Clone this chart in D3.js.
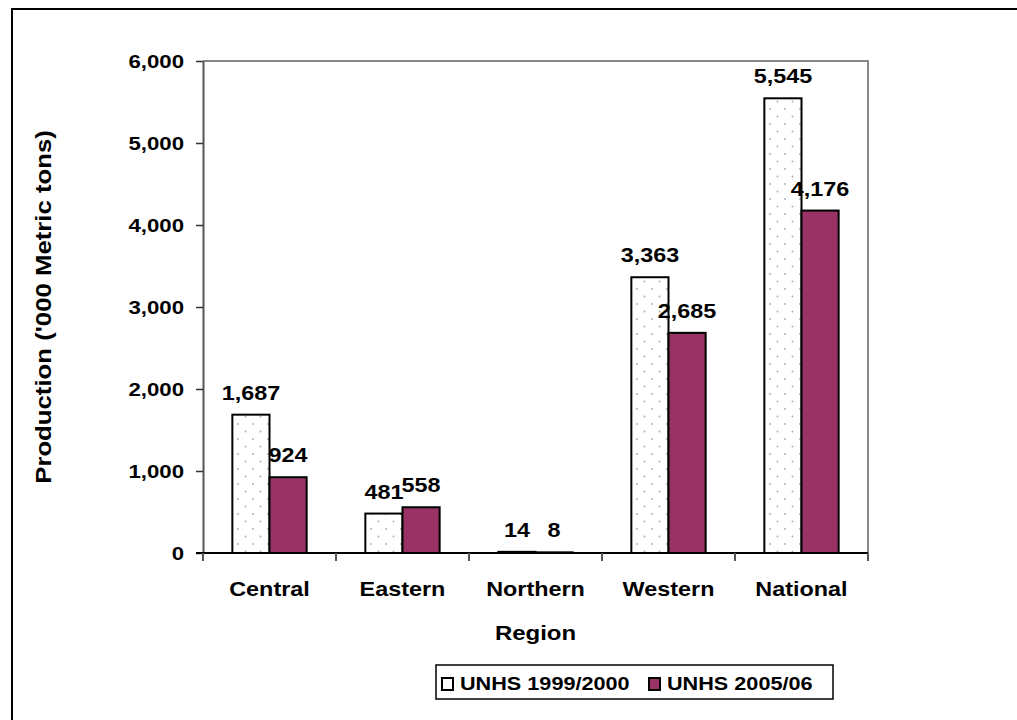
<!DOCTYPE html>
<html>
<head>
<meta charset="utf-8">
<script src="https://cdn.jsdelivr.net/npm/d3@7"></script>
<style>
  html, body { margin: 0; padding: 0; background: #fff; }
  svg { display: block; font-family: "Liberation Sans", Arial, sans-serif; font-weight: bold; }
</style>
</head>
<body>
<svg id="chart" width="1017" height="720"></svg>
<script>
// Production by region, two survey rounds ('000 metric tons)
const regions = ["Central", "Eastern", "Northern", "Western", "National"];
const series = ["UNHS 1999/2000", "UNHS 2005/06"];
const unhs1999 = [1687, 481, 14, 3363, 5545];
const unhs2005 = [924, 558, 8, 2685, 4176];
const yTicks = [0, 1000, 2000, 3000, 4000, 5000, 6000];

const svg = d3.select("#chart");
const margin = { left: 203, top: 61, right: 868, bottom: 553 };
const widen = 1.17;   // horizontal text stretch
const fmt = d3.format(",");

// Places a label at (x, y) with a slightly widened face
function label(sel, x, y, size, anchor, rot) {
  const r = rot ? ` rotate(${rot})` : "";
  return sel.append("text")
    .attr("transform", `translate(${x},${y})${r} scale(${widen},1)`)
    .attr("text-anchor", anchor)
    .attr("font-size", size)
    .attr("fill", "#000");
}

// Outer frame
svg.append("rect")
  .attr("x", 12).attr("y", 9)
  .attr("width", 1017).attr("height", 720)
  .attr("fill", "none").attr("stroke", "#000").attr("stroke-width", 2);

// Dotted fill for the first series
const defs = svg.append("defs");
const pat = defs.append("pattern")
  .attr("id", "dots").attr("patternUnits", "userSpaceOnUse")
  .attr("width", 15).attr("height", 15).attr("x", 3).attr("y", 2);
pat.append("rect").attr("width", 15).attr("height", 15).attr("fill", "#fff");
pat.append("circle").attr("cx", 2).attr("cy", 2).attr("r", 0.9).attr("fill", "#aaa");
pat.append("circle").attr("cx", 9.5).attr("cy", 9.5).attr("r", 0.9).attr("fill", "#aaa");

const x0 = d3.scaleBand().domain(regions).range([margin.left, margin.right]);
const x1 = d3.scaleBand().domain(series)
  .range([0, x0.bandwidth()]).paddingOuter(0.79).paddingInner(0);
const y = d3.scaleLinear().domain([0, 6000]).range([margin.bottom, margin.top]);

const fills = { "UNHS 1999/2000": "url(#dots)", "UNHS 2005/06": "#993366" };
const legendFills = { "UNHS 1999/2000": "#fff", "UNHS 2005/06": "#993366" };

// Plot area border (top and right)
svg.append("path")
  .attr("d", `M${margin.left},${margin.top}H${margin.right}V${margin.bottom}`)
  .attr("fill", "none").attr("stroke", "#888").attr("stroke-width", 2);

// Bars
const rows = regions.map((r, i) => ({ region: r, values: [
  { key: series[0], value: unhs1999[i] },
  { key: series[1], value: unhs2005[i] }
]}));

const groups = svg.append("g").selectAll("g").data(rows).join("g")
  .attr("transform", d => `translate(${x0(d.region)},0)`);

groups.selectAll("rect").data(d => d.values).join("rect")
  .attr("x", d => x1(d.key))
  .attr("y", d => y(d.value))
  .attr("width", x1.bandwidth())
  .attr("height", d => y(0) - y(d.value))
  .attr("fill", d => fills[d.key])
  .attr("stroke", "#000").attr("stroke-width", 2);

// Value labels
const valueLayer = svg.append("g");
rows.forEach(row => {
  row.values.forEach(v => {
    const cx = x0(row.region) + x1(v.key) + x1.bandwidth() / 2;
    label(valueLayer, cx, y(v.value) - 15, 20, "middle").text(fmt(v.value));
  });
});

// Y axis
const yAxis = svg.append("g")
  .attr("transform", `translate(${margin.left},0)`)
  .call(d3.axisLeft(y).tickValues(yTicks).tickFormat("").tickSize(7).tickSizeOuter(0));
yAxis.select(".domain").attr("stroke", "#555").attr("stroke-width", 2);
yAxis.selectAll(".tick line").attr("stroke", "#333").attr("stroke-width", 1.5);
const yLabels = svg.append("g");
yTicks.forEach(t => {
  label(yLabels, margin.left - 19, y(t) + 7, 19, "end").text(fmt(t));
});

// X axis with ticks between categories
const xAxis = svg.append("g")
  .attr("transform", `translate(0,${margin.bottom})`);
xAxis.append("line")
  .attr("x1", margin.left - 7).attr("x2", margin.right)
  .attr("stroke", "#000").attr("stroke-width", 2);
const boundaries = regions.map(r => x0(r)).concat([x0(regions[regions.length - 1]) + x0.bandwidth()]);
xAxis.selectAll("line.sep").data(boundaries).join("line")
  .attr("class", "sep")
  .attr("x1", d => d).attr("x2", d => d)
  .attr("y1", 0).attr("y2", 8)
  .attr("stroke", "#555").attr("stroke-width", 2);
regions.forEach(r => {
  label(xAxis, x0(r) + x0.bandwidth() / 2, 43, 20, "middle").text(r);
});

// Axis titles
label(svg, (margin.left + margin.right) / 2, 640, 20.5, "middle").text("Region");
label(svg, 51, 307, 22, "middle", -90).text("Production ('000 Metric tons)");

// Legend
const legend = svg.append("g");
legend.append("rect")
  .attr("x", 436).attr("y", 665).attr("width", 397).attr("height", 34)
  .attr("fill", "#fff").attr("stroke", "#000").attr("stroke-width", 1.5);
const legendX = [442, 649];
series.forEach((s, i) => {
  legend.append("rect")
    .attr("x", legendX[i]).attr("y", 678).attr("width", 11).attr("height", 12)
    .attr("fill", legendFills[s]).attr("stroke", "#000").attr("stroke-width", 2);
  label(legend, legendX[i] + 18, 690, 18.5, "start").text(s);
});
</script>
</body>
</html>
